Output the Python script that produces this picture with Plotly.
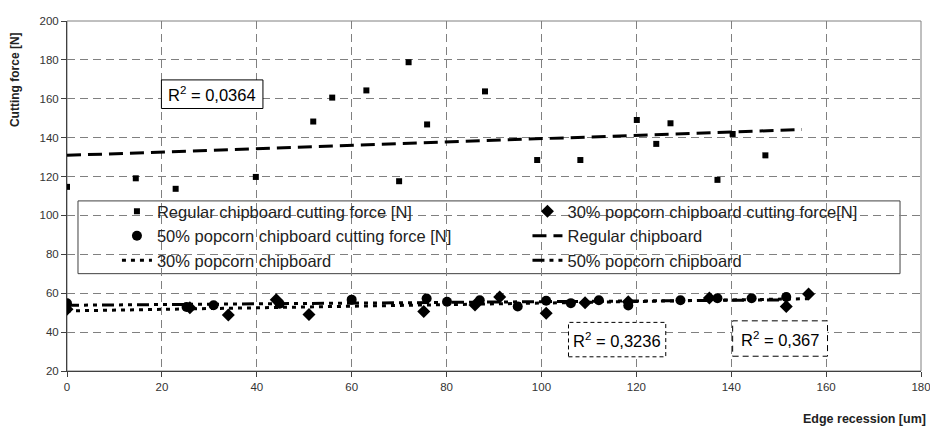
import plotly.graph_objects as go

# ---- data ----
reg_x = [0, 14.5, 22.9, 39.8, 51.9, 55.9, 63.1, 70.0, 72.0, 75.9, 88.1, 99.1, 108.2, 120.1, 124.2, 127.2, 137.1, 140.3, 147.2]
reg_y = [114.7, 119.1, 113.7, 119.8, 148.3, 160.6, 164.3, 117.6, 178.8, 146.8, 163.8, 128.5, 128.5, 149.1, 136.8, 147.4, 118.3, 141.9, 130.9]

p30_x = [0, 25.9, 34.0, 44.1, 51.0, 75.2, 86.0, 91.2, 101.0, 109.2, 118.3, 135.4, 151.6, 156.3]
p30_y = [51.7, 52.5, 48.8, 56.6, 49.0, 50.6, 53.9, 58.1, 49.7, 55.1, 55.6, 57.6, 53.2, 59.6]

p50_x = [0, 25.2, 30.9, 44.8, 60.0, 75.8, 80.1, 87.0, 95.0, 101.0, 106.2, 112.1, 118.3, 129.3, 137.1, 144.3, 151.6]
p50_y = [54.8, 52.9, 53.8, 54.6, 56.7, 57.3, 55.6, 56.4, 53.2, 56.1, 54.9, 56.4, 53.7, 56.4, 57.4, 57.4, 58.1]

# trendline end points
reg_tr_x = [0, 154.9]
reg_tr_y = [130.9, 144.2]
p30_tr_x = [0, 156.3]
p30_tr_y = [50.9, 57.2]
p50_tr_x = [0, 151.6]
p50_tr_y = [53.8, 56.6]

names = ["Regular chipboard cutting force [N]", "30% popcorn chipboard cutting force[N]",
         "50% popcorn chipboard cutting force [N]", "Regular chipboard",
         "30% popcorn chipboard", "50% popcorn chipboard"]

r2_labels = ["R<sup>2</sup> = 0,0364", "R<sup>2</sup> = 0,3236", "R<sup>2</sup> = 0,367"]

xticks = list(range(0, 181, 20))
yticks = list(range(20, 201, 20))

FONT = "Liberation Sans, Arial, sans-serif"

fig = go.Figure()
fig.add_trace(go.Scatter(x=reg_x, y=reg_y, mode="markers", name=names[0],
                         marker=dict(symbol="square", size=6, color="black"), legend="legend"))
fig.add_trace(go.Scatter(x=p30_x, y=p30_y, mode="markers", name=names[1],
                         marker=dict(symbol="diamond", size=10, color="black"), legend="legend2"))
fig.add_trace(go.Scatter(x=p50_x, y=p50_y, mode="markers", name=names[2],
                         marker=dict(symbol="circle", size=10, color="black"), legend="legend"))
fig.add_trace(go.Scatter(x=reg_tr_x, y=reg_tr_y, mode="lines", name=names[3],
                         line=dict(color="black", width=3, dash="14px,7px"), legend="legend2"))
fig.add_trace(go.Scatter(x=p30_tr_x, y=p30_tr_y, mode="lines", name=names[4],
                         line=dict(color="black", width=3, dash="4px,5px"), legend="legend"))
fig.add_trace(go.Scatter(x=p50_tr_x, y=p50_tr_y, mode="lines", name=names[5],
                         line=dict(color="black", width=3, dash="12px,5px,4px,5px,4px,5px"), legend="legend2"))

# page has an 8px body margin; plot area on page: x 67..922, y 15..371
OFF = 8
W, H = 938 - OFF, 430 - OFF
L, R, T, B = 67 - OFF, 16, 15 - OFF, 59
pw, ph = 855, 356

def px_x(p):
    return (p - 67) / pw

def px_y(p):
    return (371 - p) / ph

shapes = [
    dict(type="rect", xref="paper", yref="paper", x0=0, x1=1, y0=0, y1=1,
         line=dict(color="#808080", width=1), layer="between"),
    dict(type="rect", xref="paper", yref="paper", x0=px_x(78), x1=px_x(901), y0=px_y(272), y1=px_y(198),
         line=dict(color="#404040", width=1), fillcolor="white", layer="between"),
    dict(type="rect", xref="x", yref="y", x0=19.9, x1=41.3, y0=155.0, y1=169.7,
         line=dict(color="black", width=1), fillcolor="white", layer="between"),
    dict(type="rect", xref="x", yref="y", x0=105.7, x1=126.2, y0=27.3, y1=45.0,
         line=dict(color="black", width=1, dash="4px,3px"), fillcolor="white", layer="between"),
    dict(type="rect", xref="x", yref="y", x0=140.3, x1=160.3, y0=27.6, y1=45.8,
         line=dict(color="black", width=1, dash="6px,4px"), fillcolor="white", layer="between"),
]

annotations = [
    dict(x=30.6, y=162.3, xref="x", yref="y", text=r2_labels[0], showarrow=False,
         xanchor="center", yanchor="middle", font=dict(family=FONT, size=16.5, color="black")),
    dict(x=116.0, y=36.0, xref="x", yref="y", text=r2_labels[1], showarrow=False,
         xanchor="center", yanchor="middle", font=dict(family=FONT, size=16.5, color="black")),
    dict(x=150.3, y=36.5, xref="x", yref="y", text=r2_labels[2], showarrow=False,
         xanchor="center", yanchor="middle", font=dict(family=FONT, size=16.5, color="black")),
    dict(x=px_x(15), y=px_y(75), xref="paper", yref="paper", text="<b>Cutting force [N]</b>",
         textangle=-90, showarrow=False, xanchor="center", yanchor="middle",
         font=dict(family=FONT, size=12, color="#222")),
    dict(x=px_x(929), y=px_y(420), xref="paper", yref="paper", text="<b>Edge recession [um]</b>",
         xanchor="right", yanchor="middle", showarrow=False,
         font=dict(family=FONT, size=12.5, color="#222")),
]

legend_common = dict(bgcolor="rgba(0,0,0,0)", borderwidth=0, orientation="v",
                     font=dict(family=FONT, size=16.5, color="#222"),
                     xanchor="left", yanchor="top", itemsizing="trace")

fig.update_layout(
    width=W, height=H,
    margin=dict(l=L, r=R, t=T, b=B),
    paper_bgcolor="white", plot_bgcolor="white",
    font=dict(family=FONT, size=11, color="#333"),
    showlegend=True,
    legend=dict(x=px_x(117), y=px_y(191), **legend_common),
    legend2=dict(x=px_x(528), y=px_y(191), **legend_common),
    shapes=shapes,
    annotations=annotations,
    xaxis=dict(range=[0, 180], tickvals=xticks, ticks="outside", ticklen=5, tickcolor="#404040",
               showline=True, linecolor="#404040", linewidth=1,
               showgrid=True, gridcolor="#808080", gridwidth=1, griddash="8px,5px",
               zeroline=False, tickfont=dict(family=FONT, size=11.5, color="#333")),
    yaxis=dict(range=[20, 200], tickvals=yticks, ticks="outside", ticklen=5, tickcolor="#404040",
               showline=True, linecolor="#404040", linewidth=1,
               showgrid=True, gridcolor="#808080", gridwidth=1, griddash="8px,5px",
               zeroline=False, tickfont=dict(family=FONT, size=11.5, color="#333")),
)

fig.write_html("out.html")
